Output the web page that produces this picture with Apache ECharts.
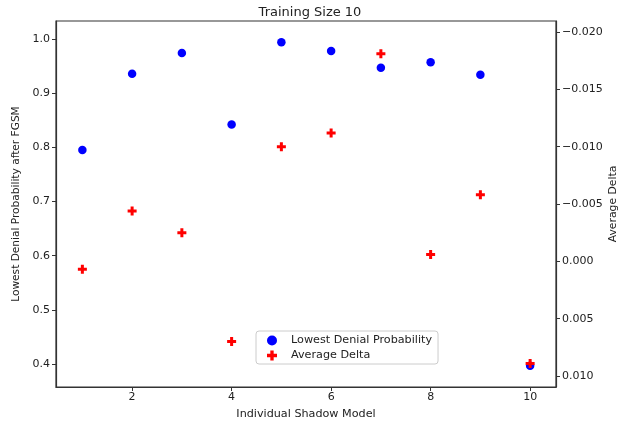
<!DOCTYPE html>
<html>
<head>
<meta charset="utf-8">
<script src="https://cdn.jsdelivr.net/npm/echarts@6/dist/echarts.min.js"></script>
<style>
	html, body { margin: 0; padding: 0; background: #fff; }
	#chart { width: 629px; height: 427px; }
</style>
</head>
<body>
<div id="chart"></div>
<script>
	// 数据
	var models = [1, 2, 3, 4, 5, 6, 7, 8, 9, 10];
	var lowestDenial = [0.795, 0.936, 0.974, 0.842, 0.994, 0.978, 0.947, 0.957, 0.934, 0.397];
	var averageDelta = [0.0007, -0.0044, -0.0025, 0.0070, -0.0100, -0.0112, -0.0181, -0.0006, -0.0058, 0.0089];
	var xTicks = [2, 4, 6, 8, 10];
	var leftTicks = [0.4, 0.5, 0.6, 0.7, 0.8, 0.9, 1.0];
	var rightTicks = [-0.020, -0.015, -0.010, -0.005, 0.000, 0.005, 0.010];

	var font = 'DejaVu Sans';
	var plusPath = 'path://M-1,-3H1V-1H3V1H1V3H-1V1H-3V-1H-1Z';

	function pairs(ys) {
		var out = [];
		for (var i = 0; i < models.length; i++) {
			out.push([models[i], ys[i]]);
		}
		return out;
	}

	var axisLine = { show: true, onZero: false, lineStyle: { color: '#333', width: 1.2 } };

	var chart = echarts.init(document.getElementById('chart'));
	var option = {
		animation: false,
		backgroundColor: '#fff',
		title: {
			text: 'Training Size 10',
			left: 305,
			top: 1,
			textAlign: 'center',
			textStyle: { fontFamily: font, fontSize: 13, fontWeight: 'normal', color: '#222' }
		},
		grid: {
			left: 56,
			right: 73,
			top: 21,
			bottom: 40,
			show: true,
			borderColor: '#333',
			borderWidth: 1.2,
			containLabel: false,
			outerBoundsMode: 'none'
		},
		legend: {
			orient: 'vertical',
			left: 256,
			top: 331,
			padding: [4, 6, 3, 11],
			itemGap: 4,
			itemWidth: 10,
			itemHeight: 10,
			borderColor: '#ccc',
			borderWidth: 1,
			borderRadius: 3,
			backgroundColor: '#fff',
			textStyle: { fontFamily: font, fontSize: 11.2, color: '#222', padding: [0, 0, 0, 9] },
			data: [
				{ name: 'Lowest Denial Probability', icon: 'circle' },
				{ name: 'Average Delta', icon: plusPath }
			]
		},
		xAxis: {
			type: 'value',
			min: 0.47,
			max: 10.52,
			name: 'Individual Shadow Model',
			nameLocation: 'middle',
			nameGap: 22,
			nameTextStyle: { fontFamily: font, fontSize: 11.2, color: '#222' },
			splitLine: { show: false },
			axisLine: axisLine,
			axisTick: { show: true, length: 4, lineStyle: { color: '#333' }, customValues: xTicks },
			axisLabel: {
				fontFamily: font, fontSize: 11, color: '#222', margin: 5,
				customValues: xTicks
			}
		},
		yAxis: [{
			type: 'value',
			position: 'left',
			min: 0.3576,
			max: 1.0332,
			name: 'Lowest Denial Probability after FGSM',
			nameLocation: 'middle',
			nameGap: 33,
			nameTextStyle: { fontFamily: font, fontSize: 10.6, color: '#222' },
			splitLine: { show: false },
			axisLine: axisLine,
			axisTick: { show: true, length: 4, lineStyle: { color: '#333' }, customValues: leftTicks },
			axisLabel: {
				fontFamily: font, fontSize: 11, color: '#222', margin: 6,
				customValues: leftTicks,
				formatter: function (v) { return v.toFixed(1); }
			}
		}, {
			type: 'value',
			position: 'right',
			inverse: true,
			min: -0.02096,
			max: 0.01096,
			name: 'Average Delta',
			nameLocation: 'middle',
			nameGap: 52,
			nameMoveOverlap: false,
			nameRotate: 90,
			nameTextStyle: { fontFamily: font, fontSize: 10.8, color: '#222' },
			splitLine: { show: false },
			axisLine: axisLine,
			axisTick: { show: true, length: 4, lineStyle: { color: '#333' }, customValues: rightTicks },
			axisLabel: {
				fontFamily: font, fontSize: 11, color: '#222', margin: 6,
				customValues: rightTicks,
				formatter: function (v) { return v.toFixed(3).replace('-', '\u2212'); }
			}
		}],
		series: [{
			name: 'Lowest Denial Probability',
			type: 'scatter',
			yAxisIndex: 0,
			symbol: 'circle',
			symbolSize: 8.5,
			itemStyle: { color: '#0000ff', opacity: 1 },
			data: pairs(lowestDenial)
		}, {
			name: 'Average Delta',
			type: 'scatter',
			yAxisIndex: 1,
			symbol: plusPath,
			symbolSize: 9,
			itemStyle: { color: '#ff0000', opacity: 1 },
			data: pairs(averageDelta)
		}]
	};
	chart.setOption(option);
</script>
</body>
</html>
